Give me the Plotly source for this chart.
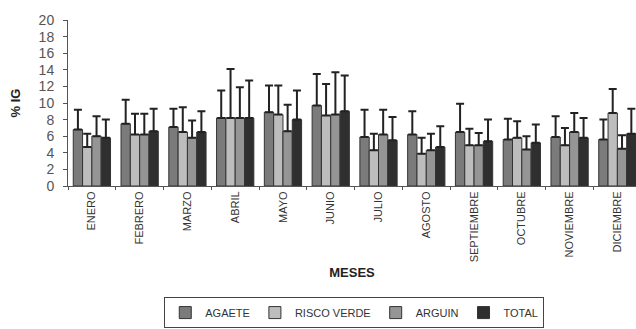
import plotly.graph_objects as go

months = ["ENERO", "FEBRERO", "MARZO", "ABRIL", "MAYO", "JUNIO", "JULIO",
          "AGOSTO", "SEPTIEMBRE", "OCTUBRE", "NOVIEMBRE", "DICIEMBRE"]

agaete = [6.8, 7.5, 7.1, 8.2, 8.9, 9.7, 5.9, 6.2, 6.5, 5.6, 5.9, 5.6]
agaete_top = [9.2, 10.4, 9.3, 11.5, 12.1, 13.5, 9.2, 9.0, 9.9, 8.1, 8.4, 8.0]

risco = [4.7, 6.2, 6.5, 8.2, 8.6, 8.5, 4.3, 3.9, 4.9, 5.8, 4.9, 8.8]
risco_top = [6.3, 8.7, 9.5, 14.1, 12.1, 12.3, 6.3, 5.8, 6.9, 7.8, 7.0, 11.7]

arguin = [6.0, 6.2, 5.8, 8.2, 6.6, 8.6, 6.2, 4.3, 4.9, 4.4, 6.5, 4.5]
arguin_top = [8.4, 8.7, 7.9, 11.9, 9.8, 13.7, 9.2, 6.3, 6.4, 6.0, 8.8, 6.1]

total = [5.8, 6.6, 6.5, 8.2, 8.0, 9.0, 5.5, 4.7, 5.4, 5.2, 5.8, 6.3]
total_top = [8.0, 9.3, 9.0, 12.7, 11.5, 13.3, 8.3, 7.2, 8.0, 7.4, 8.2, 9.3]

series = [
    ("AGAETE", agaete, agaete_top, "#7b7b7b"),
    ("RISCO VERDE", risco, risco_top, "#bdbdbd"),
    ("ARGUIN", arguin, arguin_top, "#959595"),
    ("TOTAL", total, total_top, "#2f2f2f"),
]

fig = go.Figure()
for name, vals, tops, color in series:
    fig.add_trace(go.Bar(
        name=name, x=months, y=vals,
        marker=dict(color=color, line=dict(color="#333333", width=1)),
        error_y=dict(type="data", symmetric=False,
                     array=[t - v for t, v in zip(tops, vals)],
                     arrayminus=[0] * len(vals),
                     color="#222222", thickness=2, width=4),
    ))

fig.update_layout(
    width=636, height=329,
    margin=dict(l=68, r=0, t=20, b=143, autoexpand=False),
    paper_bgcolor="white", plot_bgcolor="white",
    barmode="group", bargap=0.22, bargroupgap=0,
    font=dict(family="Liberation Sans, Arial, sans-serif", color="#333333"),
    showlegend=True,
    legend=dict(orientation="h", x=0.504, xref="paper", xanchor="center",
                y=0.097, yref="container", yanchor="top",
                bordercolor="#444444", borderwidth=1,
                font=dict(size=11, color="#333333"),
                itemwidth=30, itemclick=False, tracegroupgap=0),
    xaxis=dict(
        range=[-0.5, 11.39], automargin=True,
        showline=True, linecolor="#555555", linewidth=1,
        ticks="outside", tickson="boundaries", ticklen=3, tickcolor="#555555",
        tickangle=-90, tickfont=dict(size=11, color="#333333"),
        title=dict(text="<b>MESES</b>", font=dict(size=13, color="#222222"),
                   standoff=6),
        showgrid=False,
    ),
    yaxis=dict(
        range=[0, 20], dtick=2, automargin=False,
        showline=True, linecolor="#555555", linewidth=1,
        ticks="outside", ticklen=4, tickcolor="#555555",
        ticklabelstandoff=6,
        tickfont=dict(size=14, color="#555555"),
        title=dict(text="<b>% IG</b>", font=dict(size=13, color="#222222")),
        showgrid=False, zeroline=False,
    ),
)

fig.write_html("out.html",
               config={"displayModeBar": False},
               post_script="document.body.style.margin='0';document.body.style.overflow='hidden';")
